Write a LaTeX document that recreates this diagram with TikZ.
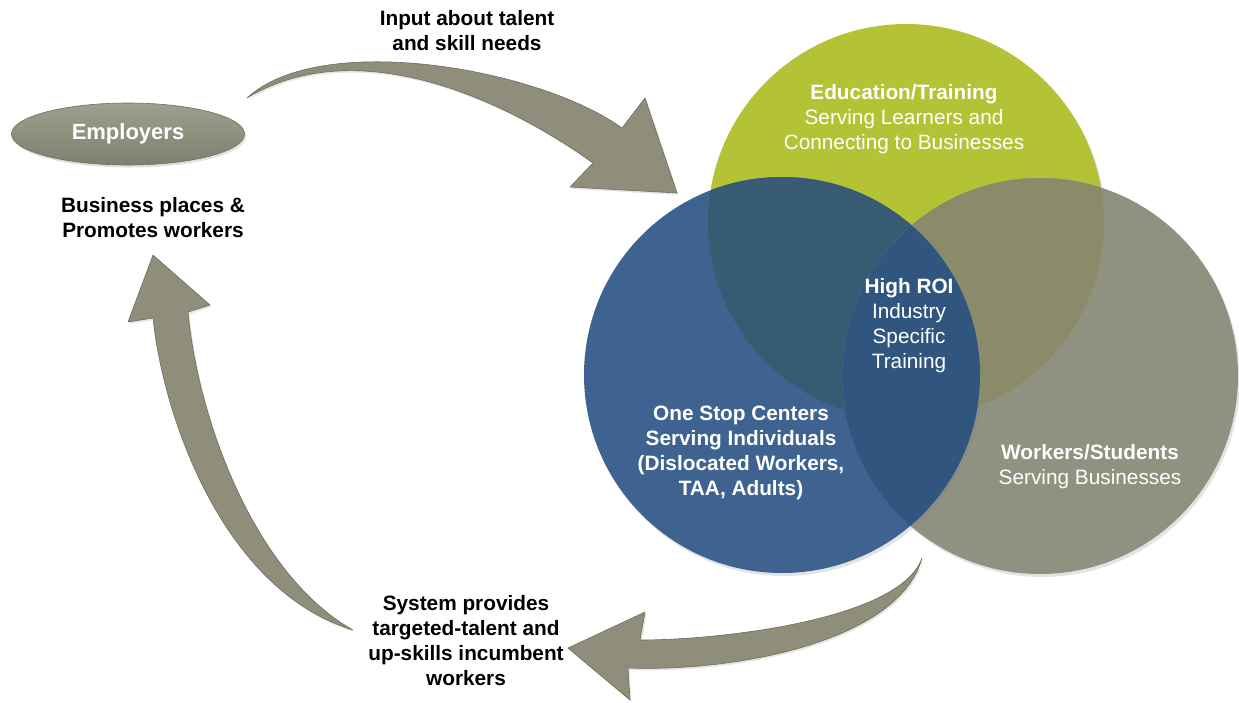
\documentclass[tikz,border=0pt]{standalone}
\usepackage{fontspec}
\setmainfont{Liberation Sans}
\usetikzlibrary{shapes.geometric,shadows}

\definecolor{edugreen}{HTML}{B4C236}
\definecolor{oscblue}{HTML}{3F6390}
\definecolor{wrkgray}{HTML}{909181}
\definecolor{edublue}{HTML}{375B73}
\definecolor{eduwrk}{HTML}{8A8B69}
\definecolor{oscwrk}{HTML}{30557F}
\definecolor{arrowfill}{HTML}{8E8E7A}
\definecolor{arrowedge}{HTML}{6E6E5E}

\tikzset{
  lbl/.style={font=\fontsize{20.8}{25}\selectfont, align=center, inner sep=0pt},
  darklbl/.style={lbl, text=black, font=\fontsize{20.8}{25}\selectfont\bfseries},
  lightlbl/.style={lbl, text=white},
  ring/.style={circle, minimum size=396pt, inner sep=0pt, draw=none,
    drop shadow={shadow xshift=2pt, shadow yshift=-3pt, opacity=0.22}},
  bigarrow/.style={fill=arrowfill, draw=arrowedge, line width=0.6pt, line join=round,
    drop shadow={shadow xshift=1.5pt, shadow yshift=-2pt, opacity=0.2}}
}

\begin{document}
\begin{tikzpicture}[x=1pt,y=-1pt]
\useasboundingbox (0,0) rectangle (1239,702);

% the three overlapping circles
\node[ring, fill=edugreen] (edu) at (906,222) {};
\node[ring, fill=wrkgray]  (wrk) at (1040,376) {};
\node[ring, fill=oscblue]  (osc) at (782,375) {};

% overlap areas
\begin{scope}
  \clip (edu.center) circle[radius=198pt];
  \fill[edublue] (osc.center) circle[radius=198pt];
  \fill[eduwrk] (wrk.center) circle[radius=198pt];
\end{scope}
\begin{scope}
  \clip (osc.center) circle[radius=198pt];
  \fill[oscwrk] (wrk.center) circle[radius=198pt];
\end{scope}

% employers ellipse
\node[ellipse, minimum width=233pt, minimum height=62pt, top color=arrowfill!85!white,
      bottom color=arrowfill!90!black, draw=arrowedge,
      line width=0.6pt, text=white, font=\fontsize{22}{26}\selectfont\bfseries,
      drop shadow={shadow xshift=1.5pt, shadow yshift=-2.5pt, opacity=0.25}]
      (emp) at (128,134) {Employers};

% labels
\node[darklbl] (input) at (467,31) {Input about talent\\and skill needs};
\node[darklbl] (biz) at (153,218) {Business places \&\\Promotes workers};
\node[darklbl] (sys) at (466,641) {System provides\\targeted-talent and\\up-skills incumbent\\workers};

\node[lightlbl] (edutxt) at (904,119) {\textbf{Education/Training}\\Serving Learners and\\Connecting to Businesses};
\node[lightlbl] (roi) at (909,326) {\textbf{High ROI}\\Industry\\Specific\\Training};
\node[lightlbl, font=\fontsize{20.8}{25}\selectfont\bfseries] (osctxt) at (741,453)
  {One Stop Centers\\Serving Individuals\\(Dislocated Workers,\\TAA, Adults)};
\node[lightlbl] (wrktxt) at (1090,467) {\textbf{Workers/Students}\\Serving Businesses};

% curved arrow: employers to the partnership
\coordinate (t1) at (247,98);
\path[bigarrow] (t1) .. controls (320,30) and (539,68) .. (622,128)
  -- (645,98) -- (677,193) -- (570,187) -- (593,163)
  .. controls (510,103) and (360,30) .. (t1) -- cycle;

% curved arrow: partnership back to the system label
\coordinate (t2) at (922,558);
\path[bigarrow] (t2) .. controls (900,620) and (720,640) .. (640,640)
  -- (645,612) -- (568,648) -- (630,700) -- (628,668)
  .. controls (740,672) and (900,640) .. (t2) -- cycle;

% curved arrow: system label up to employers
\coordinate (t3) at (353,630);
\path[bigarrow] (t3) .. controls (255,575) and (198,420) .. (188,312)
  -- (210,305) -- (153,255) -- (128,322) -- (153,318)
  .. controls (163,415) and (222,590) .. (t3) -- cycle;

\end{tikzpicture}
\end{document}
